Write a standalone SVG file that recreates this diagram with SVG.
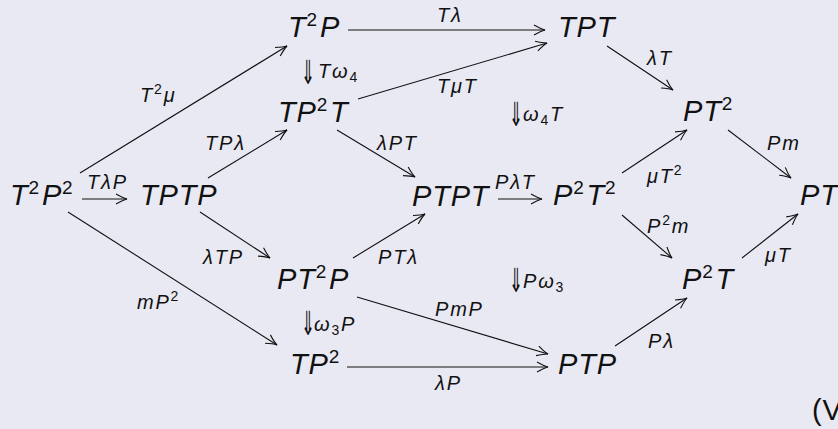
<svg xmlns="http://www.w3.org/2000/svg" width="838" height="429" viewBox="0 0 838 429">
  <style>
    .bg { fill: #e9e9f3; }
    .node { font-family: "Liberation Sans", "DejaVu Sans", sans-serif; font-style: italic; font-size: 29px; letter-spacing: 0.8px; fill: #111; }
    .lab { font-family: "Liberation Sans", "DejaVu Sans", sans-serif; font-style: italic; font-size: 20px; letter-spacing: 1.8px; fill: #111; }
    .up { font-style: normal; }
    .dbl { font-family: "DejaVu Sans", sans-serif; font-style: normal; font-size: 18px; fill: #111; }
    .sup { font-size: 19px; font-style: normal; }
    .lsup { font-size: 14px; font-style: normal; }
    .edge { stroke: #111; stroke-width: 1.1; fill: none; marker-end: url(#arr); }
  </style>
  <defs>
    <marker id="arr" markerUnits="userSpaceOnUse" viewBox="-12 -7 14 14" refX="0" refY="0" markerWidth="14" markerHeight="14" orient="auto">
      <path d="M-11,-5 Q-4,-1 0,0 Q-4,1 -11,5" stroke="#111" stroke-width="1.1" fill="none"/>
    </marker>
  </defs>
  <rect class="bg" x="0" y="0" width="838" height="429"/>

  <!-- connectors -->
  <g id="edges">
    <line class="edge" x1="348" y1="30" x2="545" y2="30"/>
    <line class="edge" x1="358" y1="99" x2="547" y2="43"/>
    <line class="edge" x1="80" y1="173" x2="287" y2="46"/>
    <line class="edge" x1="208" y1="178" x2="287" y2="130"/>
    <line class="edge" x1="337" y1="130" x2="415" y2="177"/>
    <line class="edge" x1="607" y1="46" x2="673" y2="90"/>
    <line class="edge" x1="622" y1="173" x2="687" y2="130"/>
    <line class="edge" x1="728" y1="130" x2="791" y2="178"/>
    <line class="edge" x1="82" y1="199" x2="127" y2="199"/>
    <line class="edge" x1="498" y1="199" x2="542" y2="199"/>
    <line class="edge" x1="68" y1="212" x2="277" y2="345"/>
    <line class="edge" x1="200" y1="212" x2="270" y2="258"/>
    <line class="edge" x1="353" y1="258" x2="425" y2="214"/>
    <line class="edge" x1="357" y1="297" x2="548" y2="354"/>
    <line class="edge" x1="347" y1="367" x2="548" y2="367"/>
    <line class="edge" x1="615" y1="346" x2="687" y2="298"/>
    <line class="edge" x1="622" y1="215" x2="672" y2="258"/>
    <line class="edge" x1="742" y1="258" x2="798" y2="214"/>
  </g>

  <!-- objects -->
  <g id="n-T2P"><text class="node" x="288" y="37">T<tspan class="sup" dy="-11">2</tspan><tspan dx="2" dy="11">P</tspan></text></g>
  <g id="n-TPT"><text class="node" x="558" y="37">TPT</text></g>
  <g id="n-TP2T"><text class="node" x="278" y="122">TP<tspan class="sup" dy="-11">2</tspan><tspan dx="2" dy="11">T</tspan></text></g>
  <g id="n-PT2"><text class="node" x="683" y="121">PT<tspan class="sup" dy="-11">2</tspan></text></g>
  <g id="n-T2P2"><text class="node" x="10" y="205">T<tspan class="sup" dy="-11">2</tspan><tspan dx="2" dy="11">P</tspan><tspan class="sup" dy="-11">2</tspan></text></g>
  <g id="n-TPTP"><text class="node" x="140" y="205">TPTP</text></g>
  <g id="n-PTPT"><text class="node" x="412" y="206">PTPT</text></g>
  <g id="n-P2T2"><text class="node" x="553" y="205">P<tspan class="sup" dy="-11">2</tspan><tspan dx="2" dy="11">T</tspan><tspan class="sup" dy="-11">2</tspan></text></g>
  <g id="n-PT"><text class="node" x="800" y="205">PT</text></g>
  <g id="n-PT2P"><text class="node" x="277" y="289">PT<tspan class="sup" dy="-11">2</tspan><tspan dx="2" dy="11">P</tspan></text></g>
  <g id="n-P2T"><text class="node" x="682" y="289">P<tspan class="sup" dy="-11">2</tspan><tspan dx="2" dy="11">T</tspan></text></g>
  <g id="n-TP2"><text class="node" x="290" y="374">TP<tspan class="sup" dy="-11">2</tspan></text></g>
  <g id="n-PTP"><text class="node" x="558" y="374">PTP</text></g>
  <g id="eqref"><text class="node up" x="812" y="420">(V</text></g>

  <!-- arrow labels -->
  <g id="labels">
    <text class="lab" x="437" y="22">Tλ</text>
    <text class="lab" x="140" y="102">T<tspan class="lsup" dy="-8">2</tspan><tspan dy="8">μ</tspan></text>
    <text class="lab" x="437" y="93">TμT</text>
    <text class="lab" x="647" y="65">λT</text>
    <text class="lab" x="205" y="150">TPλ</text>
    <text class="lab" x="377" y="150">λPT</text>
    <text class="lab" x="767" y="150">Pm</text>
    <text class="lab" x="87" y="189">TλP</text>
    <text class="lab" x="495" y="189">PλT</text>
    <text class="lab" x="647" y="183">μT<tspan class="lsup" dy="-8">2</tspan></text>
    <text class="lab" x="647" y="233">P<tspan class="lsup" dy="-8">2</tspan><tspan dy="8">m</tspan></text>
    <text class="lab" x="203" y="264">λTP</text>
    <text class="lab" x="378" y="264">PTλ</text>
    <text class="lab" x="765" y="262">μT</text>
    <text class="lab" x="137" y="309">mP<tspan class="lsup" dy="-8">2</tspan></text>
    <text class="lab" x="435" y="316">PmP</text>
    <text class="lab" x="648" y="348">Pλ</text>
    <text class="lab" x="435" y="390">λP</text>
  </g>

  <!-- 2-cells: tall double arrow followed by its name -->
  <g id="cells">
    <text class="dbl" transform="translate(301,84) scale(0.95,1.85)">⇓</text>
    <text class="lab" x="318" y="78">Tω<tspan class="lsup" dy="4">4</tspan></text>
    <text class="dbl" transform="translate(509,126) scale(0.95,1.85)">⇓</text>
    <text class="lab" x="523" y="121">ω<tspan class="lsup" dy="4">4</tspan><tspan dy="-4">T</tspan></text>
    <text class="dbl" transform="translate(509,292) scale(0.95,1.85)">⇓</text>
    <text class="lab" x="523" y="288">Pω<tspan class="lsup" dy="4">3</tspan></text>
    <text class="dbl" transform="translate(301,335) scale(0.95,1.85)">⇓</text>
    <text class="lab" x="314" y="331">ω<tspan class="lsup" dy="4">3</tspan><tspan dy="-4">P</tspan></text>
  </g>
</svg>
